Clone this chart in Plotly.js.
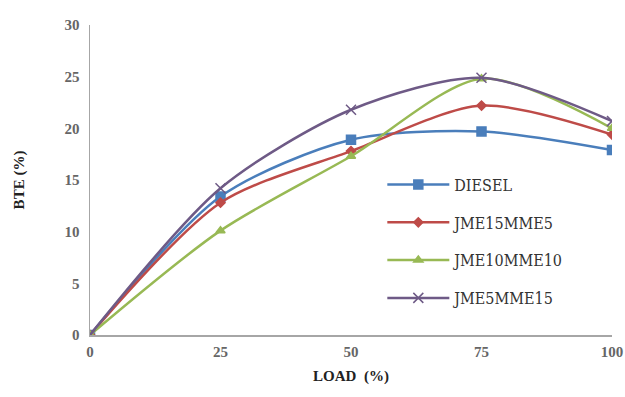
<!DOCTYPE html>
<html>
<head>
<meta charset="utf-8">
<script src="https://cdn.plot.ly/plotly-3.0.1.min.js"></script>
<style>html,body{margin:0;padding:0;background:#fff;}#chart{width:625px;height:397px;}</style>
</head>
<body>
<div id="chart"></div>
<script>
const load = [0, 25, 50, 75, 100];
const seriesNames = ["DIESEL", "JME15MME5", "JME10MME10", "JME5MME15"];
const diesel = [0, 13.4, 18.9, 19.7, 17.9];
const jme15mme5 = [0, 12.8, 17.8, 22.2, 19.4];
const jme10mme10 = [0, 10.1, 17.3, 24.8, 20.0];
const jme5mme15 = [0, 14.2, 21.8, 24.9, 20.7];
const xTicks = [0, 25, 50, 75, 100];
const yTicks = [0, 5, 10, 15, 20, 25, 30];

const seriesData = [diesel, jme15mme5, jme10mme10, jme5mme15];
const colors = ["#4A7EBB", "#BE4B48", "#98B954", "#6E5A86"];
const symbols = ["square", "diamond", "triangle-up", "x-thin-open"];
const sizes = [9, 7, 8, 10];

const traces = seriesData.map((d, i) => ({
  x: load, y: d, name: seriesNames[i], type: "scatter", mode: "lines+markers",
  legendgroup: "g" + i,
  line: {color: colors[i], width: 2.5, shape: "spline", smoothing: 0.8},
  marker: {symbol: symbols[i], size: sizes[i], color: colors[i], line: {color: colors[i], width: 1.5}}
}));

const serif = "Times New Roman";
const layout = {
  width: 625, height: 397,
  font: {family: serif, size: 15, color: "#555"},
  margin: {l: 90, r: 13, t: 25, b: 62},
  paper_bgcolor: "#fff", plot_bgcolor: "#fff",
  showlegend: true,
  legend: {x: 0.56, y: 0.54, xanchor: "left", yanchor: "top", bgcolor: "rgba(0,0,0,0)", itemwidth: 62,
    font: {family: "DejaVu Serif Condensed, DejaVu Serif", size: 16, color: "#333"}, traceorder: "grouped", tracegroupgap: 14},
  xaxis: {range: [0, 100], tickvals: xTicks, ticktext: xTicks.map(String), showgrid: false, zeroline: false,
    showline: true, linecolor: "#A6A6A6", linewidth: 1.5, ticks: "", ticklen: 0, ticklabelstandoff: 2,
    tickfont: {family: serif, size: 15, color: "#666", weight: "bold"},
    title: {text: "<b>LOAD  (%)</b>", font: {family: serif, size: 15, color: "#222"}, standoff: 12}},
  yaxis: {range: [0, 30], tickvals: yTicks, ticktext: yTicks.map(String), showgrid: false, zeroline: false,
    showline: true, linecolor: "#A6A6A6", linewidth: 1.5, ticks: "", ticklen: 0, ticklabelstandoff: 6,
    tickfont: {family: serif, size: 15, color: "#666", weight: "bold"},
    title: {text: "<b>BTE (%)</b>", font: {family: serif, size: 15, color: "#222"}, standoff: 36}}
};
Plotly.newPlot("chart", traces, layout, {displayModeBar: false, staticPlot: true});
</script>
</body>
</html>
